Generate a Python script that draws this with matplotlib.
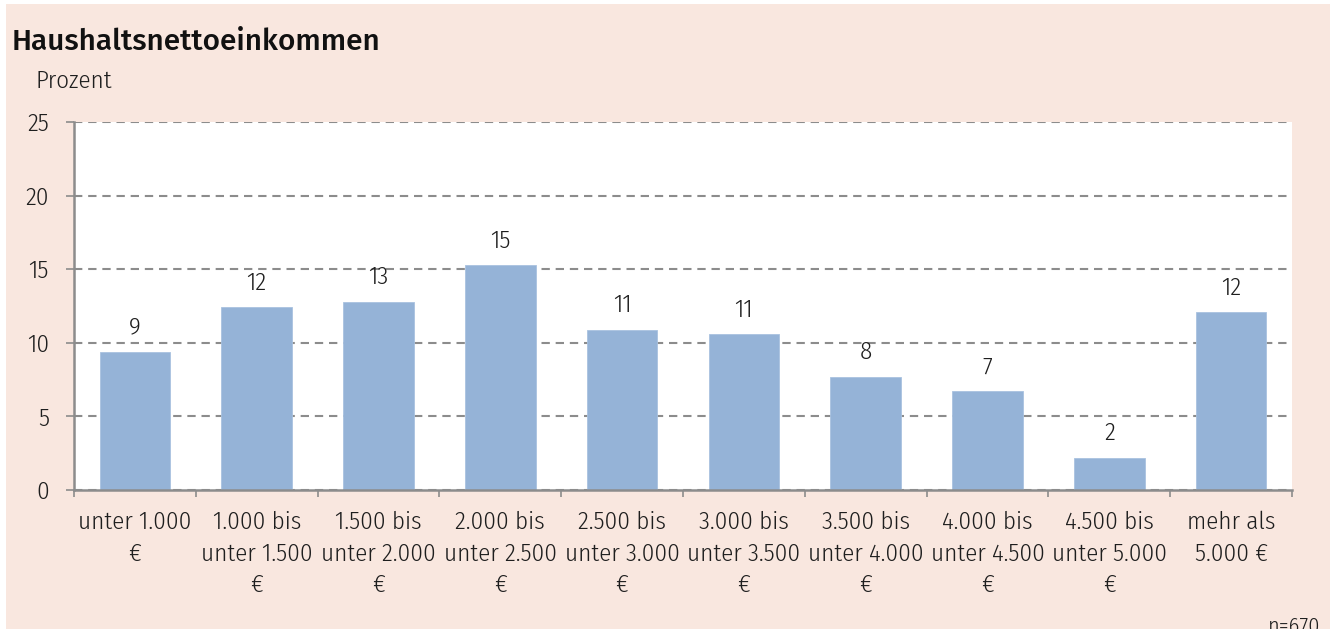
import matplotlib
matplotlib.use("Agg")
import matplotlib.pyplot as plt
from matplotlib.patches import Rectangle

# data
categories = ["unter 1.000\n€", "1.000 bis\nunter 1.500\n€", "1.500 bis\nunter 2.000\n€",
              "2.000 bis\nunter 2.500\n€", "2.500 bis\nunter 3.000\n€", "3.000 bis\nunter 3.500\n€",
              "3.500 bis\nunter 4.000\n€", "4.000 bis\nunter 4.500\n€", "4.500 bis\nunter 5.000\n€",
              "mehr als\n5.000 €"]
values = [9.4, 12.4, 12.8, 15.3, 10.9, 10.6, 7.7, 6.7, 2.2, 12.1]
yticks = [0, 5, 10, 15, 20, 25]

light = ["Fira Sans Condensed", "DejaVu Sans"]
peach = "#F9E7DF"
gray = "#8C8C8C"
ink = "#1E1E1E"

W, H = 1330, 629
fig = plt.figure(figsize=(W / 100, H / 100), dpi=100, facecolor="white")
fig.patches.append(Rectangle((6 / W, 0), 1, 1 - 4 / H, transform=fig.transFigure,
                             facecolor=peach, edgecolor="none", zorder=-10))

ax = fig.add_axes([74 / W, (H - 490) / H, (1292 - 74) / W, (490 - 122) / H])
ax.set_facecolor("white")

x = range(len(values))
bars = ax.bar(x, values, width=0.58, color="#95B3D7", edgecolor="#A9C2E0", linewidth=0.6, zorder=3)
ax.bar_label(bars, labels=[f"{v:.0f}" for v in values], padding=9, family=light,
             fontweight=300, fontsize=18, color=ink)

ax.set_xlim(-0.5, len(values) - 0.5)
ax.set_ylim(0, 25)
ax.set_yticks(yticks)
ax.grid(axis="y", color=gray, linewidth=1.5, linestyle=(0, (4, 2.8)), zorder=1)

# ticks on category borders, labels at centres
ax.set_xticks([i - 0.5 for i in range(len(values) + 1)])
ax.set_xticklabels([])
ax.set_xticks(list(x), minor=True)
ax.set_xticklabels(categories, minor=True, family=light, fontweight=300, fontsize=18,
                   color=ink, linespacing=1.46, va="top")
ax.tick_params(axis="x", which="minor", length=0, pad=15)
ax.tick_params(axis="x", which="major", length=5, width=1.2, color=gray)
ax.tick_params(axis="y", length=6, width=1.2, color=gray, pad=12, labelsize=18, labelcolor=ink)
for t in ax.get_yticklabels():
    t.set_family(light)
    t.set_fontweight(300)

for s in ["top", "right"]:
    ax.spines[s].set_visible(False)
for s in ["left", "bottom"]:
    ax.spines[s].set_color(gray)
    ax.spines[s].set_linewidth(1.8)
    ax.spines[s].set_zorder(4)

fig.text(12 / W, (H - 50) / H, "Haushaltsnettoeinkommen", family=["Fira Sans", "DejaVu Sans"],
         fontweight=500, fontsize=21.5, color="#111111", va="baseline")
fig.text(36 / W, (H - 88) / H, "Prozent", family=light, fontweight=300, fontsize=18,
         color=ink, va="baseline")
fig.text(1320 / W, (H - 633) / H, "n=670", family=light, fontweight=300, fontsize=16,
         color=ink, ha="right", va="baseline")

fig.savefig("out.png", dpi=100, facecolor="white")
